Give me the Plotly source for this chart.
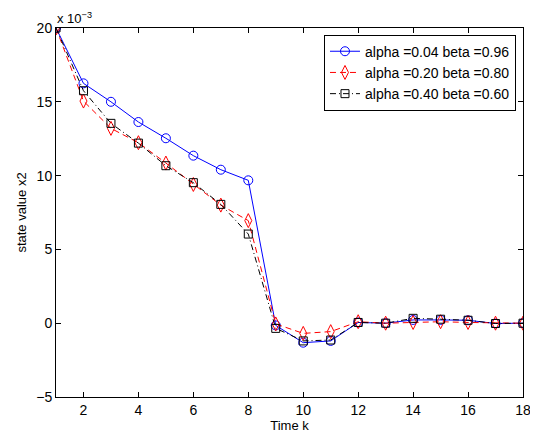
import plotly.graph_objects as go

k = list(range(1, 19))
x2_a004 = [20.0, 16.25, 15.0, 13.63, 12.53, 11.35, 10.4, 9.68, -0.15, -1.32, -1.2, 0.05, 0.0, 0.22, 0.22, 0.2, -0.02, 0.0]
x2_a020 = [20.0, 15.05, 13.2, 12.23, 10.85, 9.4, 8.0, 6.95, -0.05, -0.69, -0.57, 0.1, 0.0, 0.05, 0.1, 0.05, 0.0, 0.0]
x2_a040 = [20.0, 15.75, 13.54, 12.2, 10.67, 9.52, 8.05, 6.04, -0.35, -1.2, -1.14, 0.05, 0.0, 0.33, 0.27, 0.2, -0.02, 0.0]
names = ["alpha =0.04 beta =0.96", "alpha =0.20 beta =0.80", "alpha =0.40 beta =0.60"]
x_ticks = [2, 4, 6, 8, 10, 12, 14, 16, 18]
y_ticks = [-5, 0, 5, 10, 15, 20]

ff = "Liberation Sans, Arial, sans-serif"
font = dict(family=ff, size=14, color="black")
title_font = dict(family=ff, size=13, color="black")

fig = go.Figure()
fig.add_trace(go.Scatter(x=k, y=x2_a004, name=names[0], mode="lines+markers",
                         line=dict(color="blue", width=1, dash="solid"),
                         marker=dict(symbol="circle-open", size=9, color="blue", line=dict(width=1))))
fig.add_trace(go.Scatter(x=k, y=x2_a020, name=names[1], mode="lines+markers",
                         line=dict(color="red", width=1, dash="6px,4px"),
                         marker=dict(symbol="diamond-tall-open", size=10, color="red", line=dict(width=1))))
fig.add_trace(go.Scatter(x=k, y=x2_a040, name=names[2], mode="lines+markers",
                         line=dict(color="black", width=1, dash="6px,3px,1px,3px"),
                         marker=dict(symbol="square-open", size=8, color="black", line=dict(width=1))))

axis_common = dict(showline=True, linecolor="black", linewidth=1, mirror="ticks",
                   ticks="inside", ticklen=5, tickcolor="black", showgrid=False,
                   zeroline=False, tickfont=font, automargin=False)
fig.update_xaxes(range=[1, 18], tickvals=x_ticks, title=dict(text="Time k", font=title_font, standoff=3),
                 **axis_common)
fig.update_yaxes(range=[-5, 20], tickvals=y_ticks, ticktext=["\u22125", "0", "5", "10", "15", "20"],
                 title=dict(text="state value x2", font=title_font, standoff=6), **axis_common)

fig.add_annotation(text="x 10<sup>\u22123</sup>", xref="paper", yref="paper", x=0, y=1.0,
                   xanchor="left", yanchor="bottom", showarrow=False, font=title_font, xshift=-1)

fig.update_layout(
    width=530, height=431,
    margin=dict(l=48, r=15, t=20, b=42, autoexpand=False),
    paper_bgcolor="white", plot_bgcolor="white",
    font=font,
    showlegend=True,
    legend=dict(x=0.985, y=0.982, xanchor="right", yanchor="top",
                bgcolor="white", bordercolor="black", borderwidth=1,
                font=font, tracegroupgap=0, itemwidth=30),
)

fig.write_html("out.html")
